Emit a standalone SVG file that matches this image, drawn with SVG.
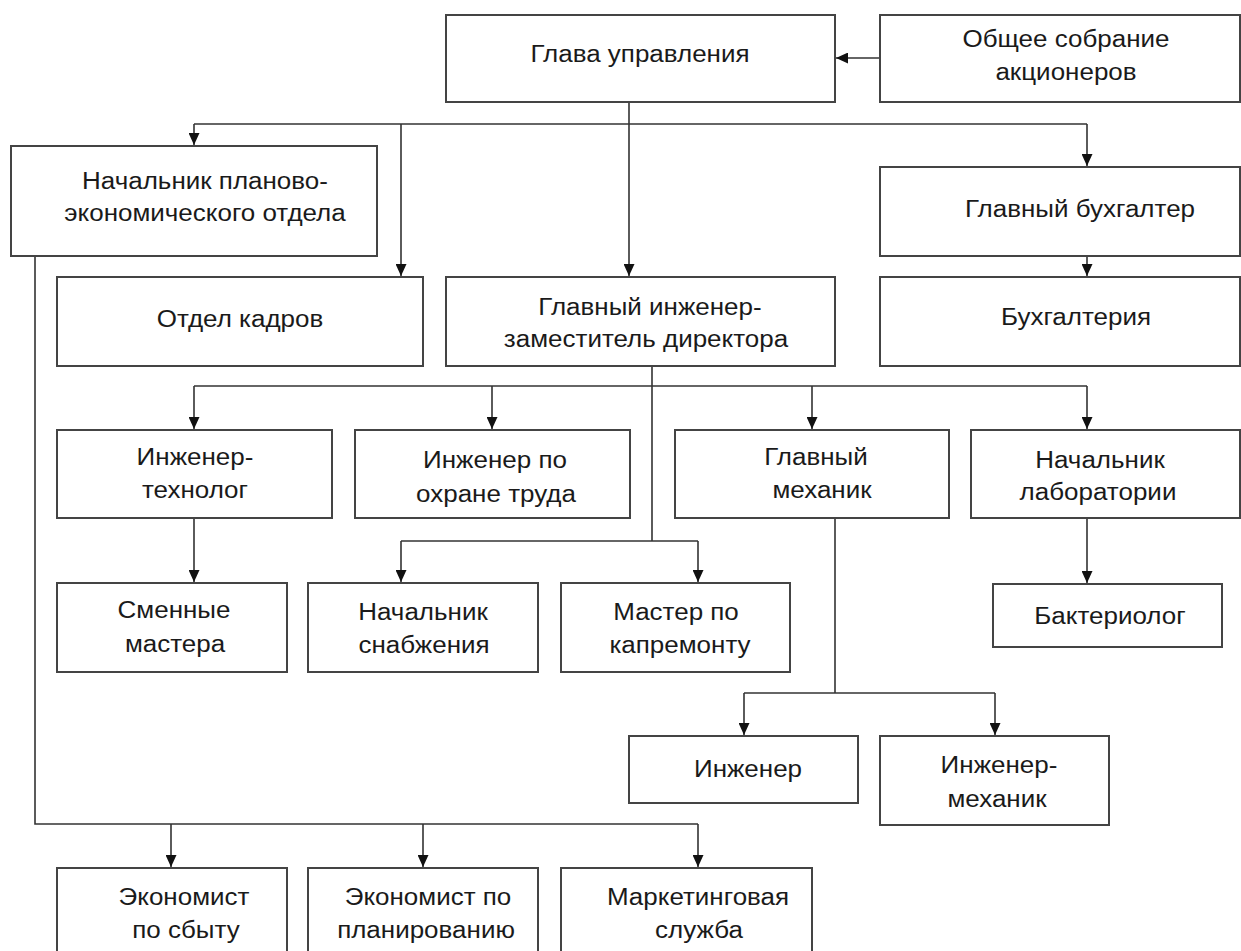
<svg xmlns="http://www.w3.org/2000/svg" width="1241" height="951" viewBox="0 0 1241 951">
<defs>
<marker id="ah" markerUnits="userSpaceOnUse" markerWidth="12" markerHeight="11" refX="12" refY="5.5" orient="auto"><path d="M0,0 L12,5.5 L0,11 z" fill="#111"/></marker>
<style>
.b{fill:#fff;stroke:#444;stroke-width:2}
.t{font-family:"Liberation Sans",Arial,sans-serif;font-size:23px;fill:#1a1a1a;text-anchor:middle}
.c{fill:none;stroke:#333;stroke-width:1.6}
.c.a{marker-end:url(#ah)}
</style>
</defs>
<rect width="1241" height="951" fill="#fff"/>
<g id="connectors">
<path class="c a" d="M880,58 H836"/>
<path class="c a" d="M629,102 V276"/>
<path class="c" d="M194,124 H1087"/>
<path class="c a" d="M194,124 V145"/>
<path class="c a" d="M401,124 V276"/>
<path class="c a" d="M1087,124 V166"/>
<path class="c a" d="M1087,256 V276"/>
<path class="c" d="M652,366 V541"/>
<path class="c" d="M194,386 H1087"/>
<path class="c a" d="M194,386 V429"/>
<path class="c a" d="M492,386 V429"/>
<path class="c a" d="M812,386 V429"/>
<path class="c a" d="M1087,386 V429"/>
<path class="c" d="M401,541 H698"/>
<path class="c a" d="M401,541 V582"/>
<path class="c a" d="M698,541 V582"/>
<path class="c a" d="M194,518 V582"/>
<path class="c a" d="M1087,518 V583"/>
<path class="c" d="M835,518 V693"/>
<path class="c" d="M744,693 H995"/>
<path class="c a" d="M744,693 V735"/>
<path class="c a" d="M995,693 V735"/>
<path class="c" d="M35,256 V824 H698"/>
<path class="c a" d="M171,824 V867"/>
<path class="c a" d="M423,824 V867"/>
<path class="c a" d="M698,824 V867"/>
</g>
<g id="glava"><rect class="b" x="446" y="15" width="389" height="87"/><text class="t" transform="translate(640,62) scale(1.13,1)">Глава управления</text></g>
<g id="obshee"><rect class="b" x="880" y="15" width="360" height="87"/><text class="t" transform="translate(1066,47) scale(1.13,1)">Общее собрание</text><text class="t" transform="translate(1066,80) scale(1.13,1)">акционеров</text></g>
<g id="pe"><rect class="b" x="11" y="146" width="366" height="110"/><text class="t" transform="translate(205,189) scale(1.13,1)">Начальник планово-</text><text class="t" transform="translate(205,221) scale(1.13,1)">экономического отдела</text></g>
<g id="glbuh"><rect class="b" x="880" y="167" width="360" height="89"/><text class="t" transform="translate(1080,217) scale(1.13,1)">Главный бухгалтер</text></g>
<g id="kadry"><rect class="b" x="57" y="277" width="366" height="89"/><text class="t" transform="translate(240,327) scale(1.13,1)">Отдел кадров</text></g>
<g id="glinzh"><rect class="b" x="446" y="277" width="389" height="89"/><text class="t" transform="translate(650,315) scale(1.13,1)">Главный инженер-</text><text class="t" transform="translate(646,347) scale(1.13,1)">заместитель директора</text></g>
<g id="buh"><rect class="b" x="880" y="277" width="360" height="89"/><text class="t" transform="translate(1076,325) scale(1.13,1)">Бухгалтерия</text></g>
<g id="tech"><rect class="b" x="57" y="430" width="275" height="88"/><text class="t" transform="translate(195,465) scale(1.13,1)">Инженер-</text><text class="t" transform="translate(195,498) scale(1.13,1)">технолог</text></g>
<g id="ohrana"><rect class="b" x="355" y="430" width="275" height="88"/><text class="t" transform="translate(495,468) scale(1.13,1)">Инженер по</text><text class="t" transform="translate(496,502) scale(1.13,1)">охране труда</text></g>
<g id="glmeh"><rect class="b" x="675" y="430" width="274" height="88"/><text class="t" transform="translate(816,465) scale(1.13,1)">Главный</text><text class="t" transform="translate(822,498) scale(1.13,1)">механик</text></g>
<g id="lab"><rect class="b" x="971" y="430" width="269" height="88"/><text class="t" transform="translate(1100,468) scale(1.13,1)">Начальник</text><text class="t" transform="translate(1098,500) scale(1.13,1)">лаборатории</text></g>
<g id="smen"><rect class="b" x="57" y="583" width="230" height="89"/><text class="t" transform="translate(174,618) scale(1.13,1)">Сменные</text><text class="t" transform="translate(175,652) scale(1.13,1)">мастера</text></g>
<g id="snab"><rect class="b" x="308" y="583" width="230" height="89"/><text class="t" transform="translate(423,620) scale(1.13,1)">Начальник</text><text class="t" transform="translate(424,653) scale(1.13,1)">снабжения</text></g>
<g id="kaprem"><rect class="b" x="561" y="583" width="229" height="89"/><text class="t" transform="translate(676,620) scale(1.13,1)">Мастер по</text><text class="t" transform="translate(680,653) scale(1.13,1)">капремонту</text></g>
<g id="bakt"><rect class="b" x="993" y="584" width="229" height="63"/><text class="t" transform="translate(1110,624) scale(1.13,1)">Бактериолог</text></g>
<g id="inzh"><rect class="b" x="629" y="736" width="229" height="67"/><text class="t" transform="translate(748,777) scale(1.13,1)">Инженер</text></g>
<g id="inzhmeh"><rect class="b" x="880" y="736" width="229" height="89"/><text class="t" transform="translate(999,773) scale(1.13,1)">Инженер-</text><text class="t" transform="translate(997,807) scale(1.13,1)">механик</text></g>
<g id="ekon_sbyt"><rect class="b" x="57" y="868" width="230" height="100"/><text class="t" transform="translate(184,905) scale(1.13,1)">Экономист</text><text class="t" transform="translate(186,938) scale(1.13,1)">по сбыту</text></g>
<g id="ekon_plan"><rect class="b" x="308" y="868" width="230" height="100"/><text class="t" transform="translate(428,905) scale(1.13,1)">Экономист по</text><text class="t" transform="translate(426,938) scale(1.13,1)">планированию</text></g>
<g id="market"><rect class="b" x="561" y="868" width="251" height="100"/><text class="t" transform="translate(698,905) scale(1.13,1)">Маркетинговая</text><text class="t" transform="translate(699,938) scale(1.13,1)">служба</text></g>
</svg>
